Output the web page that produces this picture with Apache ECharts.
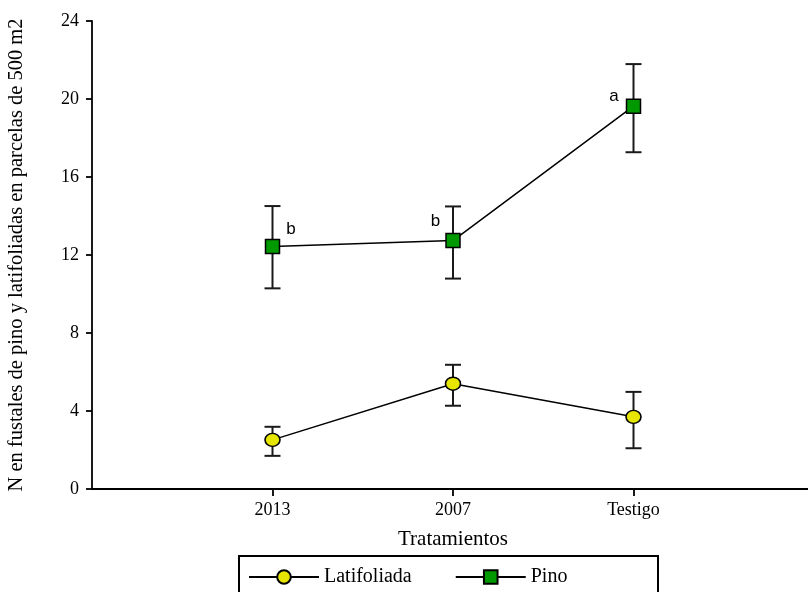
<!DOCTYPE html>
<html>
<head>
<meta charset="utf-8">
<script src="https://cdn.jsdelivr.net/npm/echarts@6/dist/echarts.min.js"></script>
<style>
  html, body { margin: 0; padding: 0; background: #fff; }
  #chart { width: 808px; height: 592px; }
</style>
</head>
<body>
<div id="chart"></div>
<script>
// Treatments on the x axis
const categories = ['2013', '2007', 'Testigo'];

// Mean stems per 500 m2 plot and error bar limits
const latifoliada = [2.52, 5.40, 3.70];
const latifoliadaLow = [1.70, 4.27, 2.09];
const latifoliadaHigh = [3.19, 6.37, 4.98];

const pino = [12.44, 12.74, 19.63];
const pinoLow = [10.29, 10.79, 17.27];
const pinoHigh = [14.51, 14.49, 21.79];

// Significance letters for Pino
const pinoLetters = ['b', 'b', 'a'];

const yTicks = [0, 4, 8, 12, 16, 20, 24];

const serif = '"Liberation Serif", "Times New Roman", serif';
const sans = '"Liberation Sans", Arial, sans-serif';

// empty slots at both ends give the axis its margins
const axisCats = [''].concat(categories, ['']);

function errorSeries(name, low, high) {
  return {
    type: 'custom',
    name: name + ' error',
    z: 1,
    silent: true,
    data: categories.map((c, i) => [c, low[i], high[i]]),
    renderItem: function (params, api) {
      const x = api.value(0);
      const p0 = api.coord([x, api.value(1)]);
      const p1 = api.coord([x, api.value(2)]);
      const half = 8;
      const style = { stroke: '#1a1a1a', lineWidth: 2 };
      return {
        type: 'group',
        children: [
          { type: 'line', shape: { x1: p0[0], y1: p0[1], x2: p1[0], y2: p1[1] }, style: style },
          { type: 'line', shape: { x1: p0[0] - half, y1: p0[1], x2: p0[0] + half, y2: p0[1] }, style: style },
          { type: 'line', shape: { x1: p1[0] - half, y1: p1[1], x2: p1[0] + half, y2: p1[1] }, style: style }
        ]
      };
    }
  };
}

const letterPos = [
  { position: 'right', offset: [1, -17] },
  { position: 'left', offset: [0, -19] },
  { position: 'left', offset: [-2, -10] }
];

const chart = echarts.init(document.getElementById('chart'), null, { renderer: 'canvas' });

chart.setOption({
  animation: false,
  backgroundColor: '#ffffff',
  grid: { left: 92, top: 21, width: 722, height: 468, containLabel: false, outerBoundsMode: 'none' },
  xAxis: {
    type: 'category',
    data: axisCats,
    boundaryGap: false,
    name: 'Tratamientos',
    nameLocation: 'middle',
    nameGap: 40,
    nameTextStyle: { fontFamily: serif, fontSize: 21, color: '#000' },
    axisLine: { lineStyle: { color: '#000', width: 1.8 } },
    axisTick: {
      length: 7,
      interval: function (idx, val) { return val !== ''; },
      lineStyle: { color: '#000', width: 1.8 }
    },
    axisLabel: { interval: 0, margin: 12, fontFamily: serif, fontSize: 18, color: '#000' },
    splitLine: { show: false }
  },
  yAxis: {
    type: 'value',
    min: yTicks[0],
    max: yTicks[yTicks.length - 1],
    interval: 4,
    name: 'N en fustales de pino y latifoliadas en parcelas de 500 m2',
    nameLocation: 'middle',
    nameRotate: 90,
    nameGap: 65,
    nameTextStyle: { fontFamily: serif, fontSize: 20.5, color: '#000' },
    axisLine: { show: true, lineStyle: { color: '#000', width: 1.8 } },
    axisTick: { show: true, length: 6, lineStyle: { color: '#000', width: 1.8 } },
    axisLabel: { margin: 13, fontFamily: serif, fontSize: 18, color: '#000' },
    splitLine: { show: false }
  },
  legend: {
    left: 243,
    top: 562,
    itemGap: 43,
    itemWidth: 70,
    itemHeight: 17,
    data: ['Latifoliada', 'Pino'],
    textStyle: { fontFamily: serif, fontSize: 20, color: '#000' }
  },
  graphic: [{
    type: 'rect',
    shape: { x: 239, y: 556, width: 419, height: 50 },
    style: { fill: 'none', stroke: '#000', lineWidth: 2 },
    silent: true
  }],
  series: [
    errorSeries('Latifoliada', latifoliadaLow, latifoliadaHigh),
    errorSeries('Pino', pinoLow, pinoHigh),
    {
      name: 'Latifoliada',
      type: 'line',
      z: 3,
      data: categories.map((c, i) => [c, latifoliada[i]]),
      symbol: 'circle',
      symbolSize: [15, 13],
      showAllSymbol: true,
      lineStyle: { color: '#000', width: 1.5 },
      itemStyle: { color: '#e6e600', borderColor: '#000', borderWidth: 1.5 }
    },
    {
      name: 'Pino',
      type: 'line',
      z: 3,
      data: categories.map((c, i) => ({
        value: [c, pino[i]],
        label: {
          show: true,
          formatter: pinoLetters[i],
          position: letterPos[i].position,
          offset: letterPos[i].offset,
          fontFamily: sans,
          fontSize: 17,
          color: '#000'
        }
      })),
      symbol: 'rect',
      symbolSize: 14,
      showAllSymbol: true,
      lineStyle: { color: '#000', width: 1.5 },
      itemStyle: { color: '#009900', borderColor: '#000', borderWidth: 1.5 }
    }
  ]
});
</script>
</body>
</html>
